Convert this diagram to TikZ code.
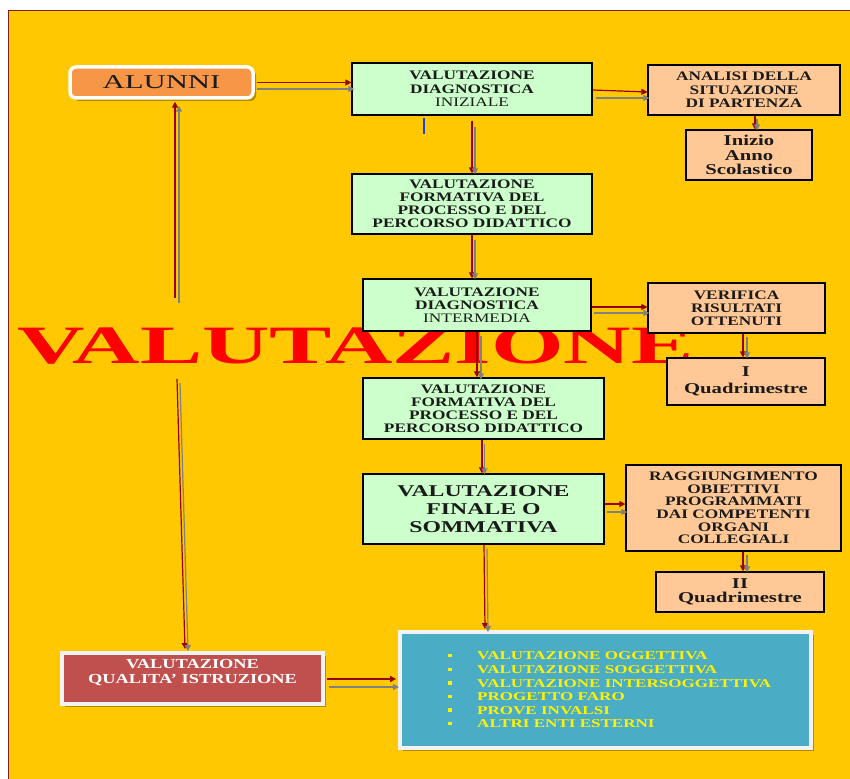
\documentclass[tikz,border=0pt]{standalone}
\usepackage{fontspec}
\setmainfont{Liberation Serif}
\newfontfamily\fboxes{Liberation Serif}[FakeStretch=1.33]
\newfontfamily\fsmall{Liberation Serif}[FakeStretch=1.38]
\newfontfamily\flist{Liberation Serif}[FakeStretch=1.42]
\newfontfamily\ffin{Liberation Serif}[FakeStretch=1.44]
\newfontfamily\falun{Liberation Serif}[FakeStretch=1.57]
\newfontfamily\fbig{Liberation Serif}[FakeStretch=1.73]
\usetikzlibrary{arrows.meta,calc,shadows}
\definecolor{bgc}{HTML}{FFC800}
\definecolor{greenc}{HTML}{CCFFCC}
\definecolor{peach}{HTML}{FFC896}
\definecolor{alunc}{HTML}{F79646}
\definecolor{qualc}{HTML}{C0504D}
\definecolor{bluec}{HTML}{4BACC6}
\definecolor{arrred}{HTML}{990000}
\definecolor{arrgray}{HTML}{808080}
\definecolor{txt}{HTML}{1A1A1A}
\definecolor{borderred}{HTML}{8B1A1A}
\definecolor{markblue}{HTML}{1F3FE0}
\newcommand\bul{\makebox[29pt][l]{\raisebox{2.5pt}{\rule{3.5pt}{3.5pt}}}}
\tikzset{
  gbox/.style={draw=black, line width=1.2pt, fill=greenc, inner sep=0pt, align=center, text=txt,
    font=\fboxes\bfseries\fontsize{13}{13}\selectfont},
  pbox/.style={draw=black, line width=1.2pt, fill=peach, inner sep=0pt, align=center, text=txt,
    font=\fboxes\bfseries\fontsize{13}{13}\selectfont},
  qbox/.style={draw=black, line width=1.2pt, fill=peach, inner sep=0pt, align=center, text=txt,
    font=\fsmall\bfseries\fontsize{15}{14.5}\selectfont},
  wshadow/.style={drop shadow={shadow xshift=3pt, shadow yshift=-3pt, opacity=0.3, fill=black}},
  rarr/.style={draw=arrred, line width=1.2pt, -{Triangle[length=6pt,width=6pt]}},
  garr/.style={draw=arrgray, line width=1.2pt, -{Triangle[length=6pt,width=6pt]}},
}
\begin{document}
\begin{tikzpicture}[x=1pt,y=-1pt]
\useasboundingbox (0,0) rectangle (850,778);
\fill[white] (0,0) rectangle (850,778);
\draw[fill=bgc, draw=borderred, line width=1pt] (8.5,10.5) rectangle (853,781);

% big title behind everything
\node[anchor=base, inner sep=0pt, text=red, font=\fbig\bfseries\fontsize{54}{54}\selectfont] (big) at (355.5,363) {VALUTAZIONE};

% boxes
\node[draw=white, line width=3.5pt, fill=alunc, rounded corners=6pt, wshadow, minimum width=183pt, minimum height=31pt, inner sep=0pt,
  text=txt, font=\falun\fontsize{19.6}{19.6}\selectfont] (alunni) at (161.5,82.5) {ALUNNI};

\node[gbox, minimum width=240pt, minimum height=52pt] (diag1) at (472,89)
  {VALUTAZIONE\\[0.6pt] DIAGNOSTICA\\[0.6pt] {\mdseries INIZIALE}};
\node[pbox, minimum width=192pt, minimum height=50pt] (analisi) at (744,90)
  {ANALISI DELLA\\[0.6pt] SITUAZIONE\\[0.6pt] DI PARTENZA};
\node[qbox, minimum width=126pt, minimum height=50pt] (inizio) at (749,155)
  {Inizio\\ Anno\\ Scolastico};
\node[gbox, minimum width=240pt, minimum height=60pt] (form1) at (472,204)
  {VALUTAZIONE\\ FORMATIVA DEL\\ PROCESSO E DEL\\ PERCORSO DIDATTICO};
\node[gbox, minimum width=228pt, minimum height=52pt] (diag2) at (477,305)
  {VALUTAZIONE\\ DIAGNOSTICA\\ {\mdseries INTERMEDIA}};
\node[pbox, minimum width=177pt, minimum height=50pt] (verifica) at (736.5,308)
  {VERIFICA\\ RISULTATI\\ OTTENUTI};
\node[qbox, minimum width=158pt, minimum height=47pt] (iquad) at (746,381.5)
  {I\\[2pt] Quadrimestre};
\node[gbox, minimum width=241pt, minimum height=61pt] (form2) at (483.5,408.5)
  {VALUTAZIONE\\ FORMATIVA DEL\\ PROCESSO E DEL\\ PERCORSO DIDATTICO};
\node[gbox, minimum width=241pt, minimum height=70pt, font=\ffin\bfseries\fontsize{16.5}{18.3}\selectfont] (finale) at (483.5,509)
  {VALUTAZIONE\\ FINALE O\\ SOMMATIVA};
\node[pbox, minimum width=215pt, minimum height=86pt, font=\fboxes\bfseries\fontsize{13}{12.6}\selectfont] (ragg) at (733.5,508)
  {RAGGIUNGIMENTO\\ OBIETTIVI\\ PROGRAMMATI\\ DAI COMPETENTI\\ ORGANI\\ COLLEGIALI};
\node[qbox, minimum width=168pt, minimum height=40pt, font=\fsmall\bfseries\fontsize{15}{13.5}\selectfont] (iiquad) at (740,592)
  {II\\ Quadrimestre};

\node[draw=white!95!black, line width=4pt, fill=bluec, wshadow, minimum width=411pt, minimum height=116pt, inner sep=0pt] (blue) at (605.5,690) {};
\node[anchor=west, inner sep=0pt, align=left, text=yellow, font=\flist\bfseries\fontsize{12}{13.6}\selectfont] (list) at (448,690)
  {\bul VALUTAZIONE OGGETTIVA\\ \bul VALUTAZIONE SOGGETTIVA\\ \bul VALUTAZIONE INTERSOGGETTIVA\\ \bul PROGETTO FARO\\ \bul PROVE INVALSI\\ \bul ALTRI ENTI ESTERNI};

\node[draw=white!95!black, line width=4pt, fill=qualc, wshadow, minimum width=261pt, minimum height=51pt, inner sep=0pt] (qualita) at (192.5,678.5) {};
\node[inner sep=0pt, align=center, text=white, font=\fboxes\bfseries\fontsize{13.8}{15}\selectfont] (qualtext) at ($(qualita.center)+(0,-6)$)
  {VALUTAZIONE\\ QUALITA’ ISTRUZIONE};

% left vertical connectors
\coordinate (lu) at (175,298);
\coordinate (lug) at (179,303);
\draw[rarr] (lu) -- ($(lu |- alunni.south)+(0,2)$);
\draw[garr] (lug) -- ($(lug |- alunni.south)+(0,6)$);
\coordinate (ll) at (177,379);
\coordinate (llg) at (180,383);
\draw[rarr] (ll) -- ($(qualita.north)+(-7.5,-2)$);
\draw[garr] (llg) -- ($(qualita.north)+(-4.5,0)$);

% horizontal connectors
\draw[rarr] ($(alunni.east)+(2,0)$) -- (alunni.east -| diag1.west);
\draw[garr] ($(alunni.east)+(2,6.5)$) -- ($(alunni.east -| diag1.west)+(3,6.5)$);
\draw[rarr] ($(diag1.east)+(0,1)$) -- ($(analisi.west)+(0,2)$);
\draw[garr] ($(diag1.east)+(3,9)$) -- ($(analisi.west)+(2,8)$);
\draw[rarr] ($(diag2.east)+(0,2)$) -- ($(verifica.west)+(0,-1)$);
\draw[garr] ($(diag2.east)+(2,8)$) -- ($(verifica.west)+(2,5)$);
\draw[rarr] ($(finale.east)+(0,-5)$) -- ($(ragg.west)+(0,-4)$);
\draw[garr] ($(finale.east)+(2,3)$) -- ($(ragg.west)+(2,4)$);
\draw[rarr] ($(qualita.east)+(2,0.5)$) -- ($(blue.west)+(-2,-11)$);
\draw[garr] ($(qualita.east)+(4,8.5)$) -- ($(blue.west)+(1,-3)$);

% vertical connectors, middle column
\draw[rarr] ($(diag1.south)+(0,5)$) -- (form1.north);
\draw[garr] ($(diag1.south)+(3,11)$) -- ($(form1.north)+(3,1)$);
\draw[rarr] (form1.south) -- (form1.south |- diag2.north);
\draw[garr] ($(form1.south)+(3,5)$) -- ($(form1.south |- diag2.north)+(3,1)$);
\draw[rarr] (diag2.south) -- (diag2.south |- form2.north);
\draw[garr] ($(diag2.south)+(4,4)$) -- ($(diag2.south |- form2.north)+(4,2)$);
\draw[rarr] ($(form2.south)+(-1.5,0)$) -- ($(form2.south |- finale.north)+(-1.5,0)$);
\draw[garr] ($(form2.south)+(1,4)$) -- ($(form2.south |- finale.north)+(1,1)$);
\draw[rarr] ($(finale.south)+(0.5,0)$) -- ($(finale.south |- blue.north)+(1.5,-1)$);
\draw[garr] ($(finale.south)+(3.5,4)$) -- ($(finale.south |- blue.north)+(4.5,2)$);

% right column
\draw[rarr] ($(analisi.south)+(11,0)$) -- ($(inizio.north)+(6,0)$);
\draw[garr] ($(analisi.south)+(13,3)$) -- ($(inizio.north)+(8,1)$);
\draw[rarr] ($(verifica.south)+(6.5,0)$) -- ($(iquad.north)+(-3,0)$);
\draw[garr] ($(verifica.south)+(10.5,3)$) -- ($(iquad.north)+(1,1)$);
\draw[rarr] ($(ragg.south)+(9.5,0)$) -- ($(iiquad.north)+(3,0)$);
\draw[garr] ($(ragg.south)+(13.5,3)$) -- ($(iiquad.north)+(7,1)$);

% small blue mark
\draw[markblue, line width=2.5pt] (424,118) -- (424,134);
\end{tikzpicture}
\end{document}
